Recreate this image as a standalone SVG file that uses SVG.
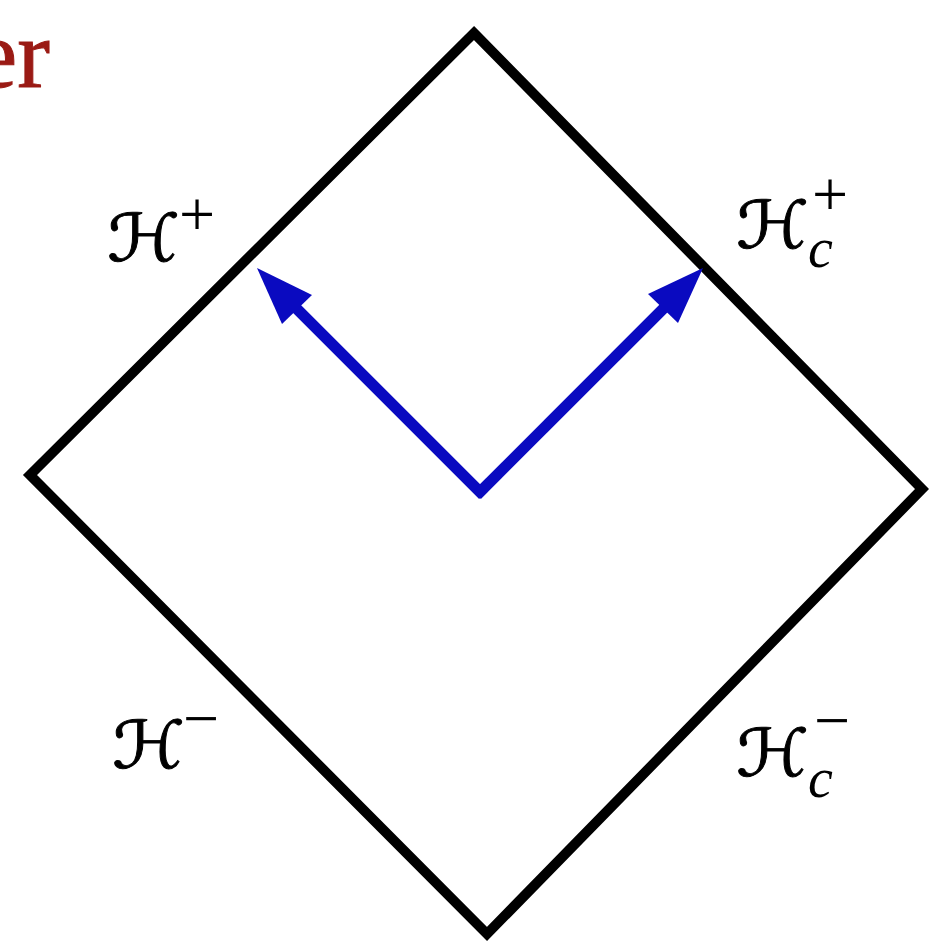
<svg xmlns="http://www.w3.org/2000/svg" width="929" height="942" viewBox="0 0 929 942">
<style>
.edge{fill:none;stroke:#000;stroke-width:10;stroke-linejoin:miter}
.arr{stroke:#0a0ac0;stroke-width:11;fill:none}
.head{fill:#0a0ac0}
.cal{font-family:"DejaVu Serif","DejaVu Sans",serif;font-size:66px;fill:#000;stroke:#000;stroke-width:0.9}
.sup{font-family:"Liberation Serif",serif;font-size:64px;fill:#000}
.sub{font-family:"Liberation Serif",serif;font-style:italic;font-size:56px;fill:#000}
.title{font-family:"Liberation Serif",serif;font-size:98px;fill:#9a1a14;stroke:#9a1a14;stroke-width:1}
</style>
<rect width="929" height="942" fill="#fff"/>
<text class="title" x="50" y="87" text-anchor="end">er</text>
<g id="diamond">
<polygon class="edge" points="474,33 922,489 487,934 30,475"/>
</g>
<g id="connectors">
<line class="arr" x1="483" y1="495" x2="295" y2="307"/>
<polygon class="head" points="257,268 312,295 282,324"/>
<line class="arr" x1="477" y1="495" x2="665" y2="307"/>
<polygon class="head" points="703,268 648,294 678,323"/>
</g>
<g id="label-Hplus">
<text class="cal" transform="translate(107,261) scale(1.12,1)">ℋ</text><text class="sup" x="179" y="236">+</text>
</g>
<g id="label-Hcplus">
<text class="cal" transform="translate(736,248) scale(1.12,1)">ℋ</text><text class="sup" x="812" y="216">+</text><text class="sub" x="808" y="267">c</text>
</g>
<g id="label-Hminus">
<text class="cal" transform="translate(112,768) scale(1.12,1)">ℋ</text><text class="sup" x="183" y="740">−</text>
</g>
<g id="label-Hcminus">
<text class="cal" transform="translate(736,776) scale(1.12,1)">ℋ</text><text class="sup" x="814" y="742">−</text><text class="sub" x="808" y="797">c</text>
</g>
</svg>
